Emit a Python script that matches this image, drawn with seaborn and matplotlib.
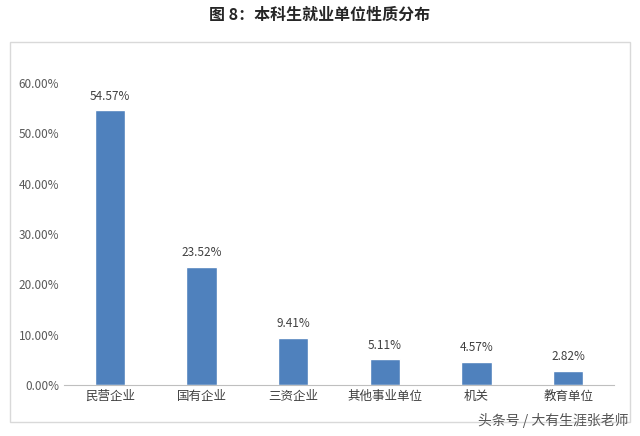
import matplotlib
matplotlib.use("Agg")
import matplotlib.pyplot as plt
import seaborn as sns
import pandas as pd
from matplotlib.patches import Rectangle

categories = ["民营企业", "国有企业", "三资企业", "其他事业单位", "机关", "教育单位"]
values = [54.57, 23.52, 9.41, 5.11, 4.57, 2.82]
yticks = [0, 10, 20, 30, 40, 50, 60]

sns.set_style("white")
plt.rcParams['font.family'] = ['Noto Sans CJK SC', 'DejaVu Sans']

fig = plt.figure(figsize=(6.4, 4.36), dpi=100)
fig.patches.append(Rectangle((10/640, 1-422/436), 620/640, 380/436, transform=fig.transFigure,
                             fill=False, edgecolor="#d9d9d9", linewidth=1))
ax = fig.add_axes([64/640, 1-385/436, 550/640, (385-83)/436])
df = pd.DataFrame({"cat": categories, "val": values})
sns.barplot(data=df, x="cat", y="val", color="#4f81bd", saturation=1, width=0.33, ax=ax)
ax.set_xlim(-0.5, 5.5)
ax.set_ylim(0, 60)
ax.set_yticks(yticks)
ax.set_yticklabels([f"{t:.2f}%" for t in yticks], fontsize=8.5, color="#595959")
ax.tick_params(axis="x", labelsize=9, colors="#404040", length=0)
ax.tick_params(axis="y", length=0)
ax.set_xlabel(""); ax.set_ylabel("")
for s in ["top", "right", "left"]:
    ax.spines[s].set_visible(False)
ax.spines["bottom"].set_color("#bfbfbf")
for i, v in enumerate(values):
    ax.text(i, v + 1.5, f"{v:.2f}%", ha="center", va="bottom", fontsize=8.5, color="#404040", clip_on=False)
fig.text(0.5, 1-15/436, "图 8：本科生就业单位性质分布", ha="center", va="center",
         fontsize=11.5, fontweight="bold", family=['Noto Sans CJK SC', 'DejaVu Sans'])
fig.text(628/640, 1-420/436, "头条号 / 大有生涯张老师", ha="right", va="center", fontsize=10, color="#555555")
fig.savefig("out.png", dpi=100)
